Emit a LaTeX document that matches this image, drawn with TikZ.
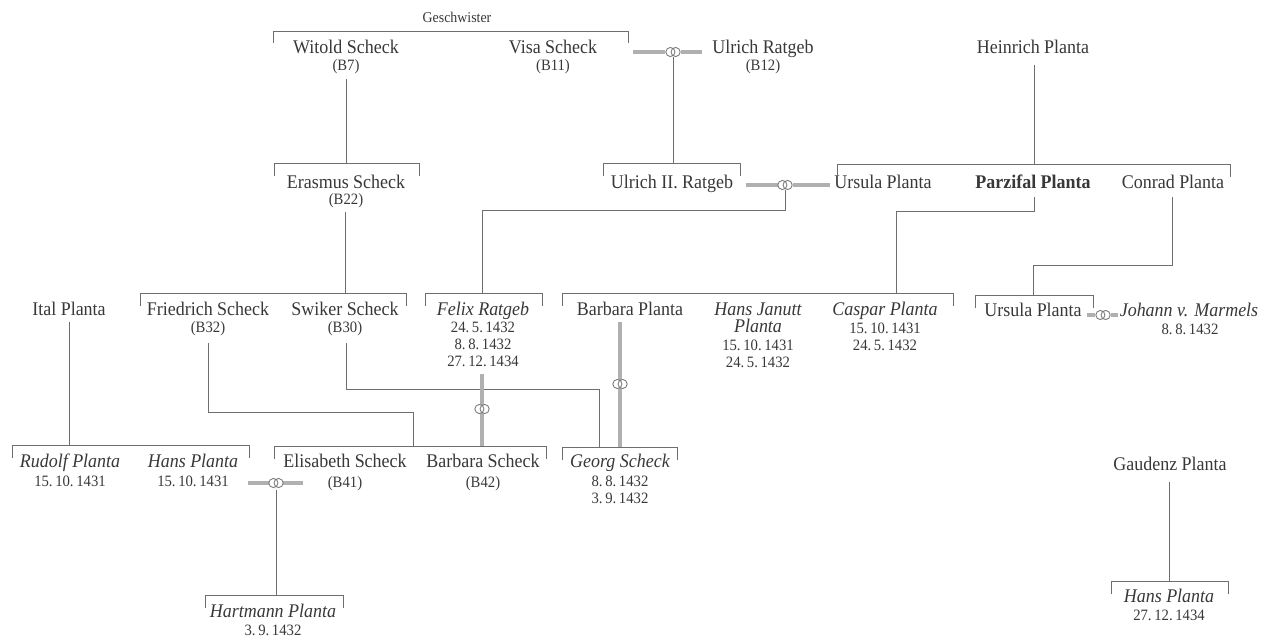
\documentclass[tikz,border=0pt]{standalone}
\usepackage{fontspec}
\setmainfont{Liberation Serif}[FakeStretch=0.93]
\definecolor{ink}{HTML}{383838}
\definecolor{ln}{HTML}{6E6E6E}
\definecolor{mar}{HTML}{B0B0B0}
\definecolor{ringc}{HTML}{7A7A7A}
\tikzset{
  nm/.style={anchor=base, inner sep=0pt, text=ink, font=\fontsize{11}{13}\selectfont},
  nmi/.style={anchor=base, inner sep=0pt, text=ink, font=\fontsize{11}{13}\selectfont\itshape},
  nmb/.style={anchor=base, inner sep=0pt, text=ink, font=\fontsize{11}{13}\selectfont\bfseries},
  sb/.style={anchor=base, inner sep=0pt, text=ink, font=\fontsize{9}{11}\selectfont},
  gs/.style={anchor=base, inner sep=0pt, text=ink, font=\fontsize{8.5}{10}\selectfont},
  tie/.style={draw=ln, line width=0.5pt},
  mline/.style={draw=mar, line width=1.9pt},
  rings/.pic={
    \fill[white] (-2.6,0) circle[radius=2.6pt] (2.6,0) circle[radius=2.6pt];
    \draw[ringc, line width=0.5pt] (-2.6,0) circle[radius=2.6pt] (2.6,0) circle[radius=2.6pt];
  }
}
\begin{document}
\begin{tikzpicture}[x=0.02cm,y=-0.02cm]
\useasboundingbox (0,0) rectangle (1272,640);

% ---------- row 1
\node[gs] (gesch) at (457,22) {Geschwister};
\node[nm] (witold) at (346,53) {Witold Scheck};
\node[sb] (witoldb) at (346,70) {(B7)};
\node[nm] (visa) at (553,53) {Visa Scheck};
\node[sb] (visab) at (553,70) {(B11)};
\node[nm] (ulrich) at (763,53) {Ulrich Ratgeb};
\node[sb] (ulrichb) at (763,70) {(B12)};
\node[nm] (heinrich) at (1033,53) {Heinrich Planta};

% ---------- row 2
\node[nm] (erasmus) at (346,188) {Erasmus Scheck};
\node[sb] (erasmusb) at (346,204) {(B22)};
\node[nm] (ulrich2) at (672,188) {Ulrich II. Ratgeb};
\node[nm] (ursula) at (883,188) {Ursula Planta};
\node[nmb] (parzifal) at (1033,188) {Parzifal Planta};
\node[nm] (conrad) at (1173,188) {Conrad Planta};

% ---------- row 3
\node[nm] (ital) at (69,315) {Ital Planta};
\node[nm] (friedrich) at (208,315) {Friedrich Scheck};
\node[sb] (friedrichb) at (208,332) {(B32)};
\node[nm] (swiker) at (345,315) {Swiker Scheck};
\node[sb] (swikerb) at (345,332) {(B30)};
\node[nmi] (felix) at (483,315) {Felix Ratgeb};
\node[sb] (felixa) at (483,332) {24.\,5.\,1432};
\node[sb] (felixb) at (483,349) {8.\,8.\,1432};
\node[sb] (felixc) at (483,366) {27.\,12.\,1434};
\node[nm] (barbarap) at (630,315) {Barbara Planta};
\node[nmi] (hansj) at (758,315) {Hans Janutt};
\node[nmi] (hansj2) at (758,332) {Planta};
\node[sb] (hansja) at (758,350) {15.\,10.\,1431};
\node[sb] (hansjb) at (758,367) {24.\,5.\,1432};
\node[nmi] (caspar) at (885,315) {Caspar Planta};
\node[sb] (caspara) at (885,333) {15.\,10.\,1431};
\node[sb] (casparb) at (885,350) {24.\,5.\,1432};
\node[nm] (ursula2) at (1033,316) {Ursula Planta};
\node[nmi] (johann) at (1189,316) {Johann v. Marmels};
\node[sb] (johanna) at (1190,334) {8.\,8.\,1432};

% ---------- row 4
\node[nmi] (rudolf) at (70,467) {Rudolf Planta};
\node[sb] (rudolfa) at (70,486) {15.\,10.\,1431};
\node[nmi] (hans) at (193,467) {Hans Planta};
\node[sb] (hansa) at (193,486) {15.\,10.\,1431};
\node[nm] (elisabeth) at (345,467) {Elisabeth Scheck};
\node[sb] (elisabethb) at (345,487) {(B41)};
\node[nm] (barbaras) at (483,467) {Barbara Scheck};
\node[sb] (barbarasb) at (483,487) {(B42)};
\node[nmi] (georg) at (620,467) {Georg Scheck};
\node[sb] (georga) at (620,486) {8.\,8.\,1432};
\node[sb] (georgb) at (620,503) {3.\,9.\,1432};
\node[nm] (gaudenz) at (1170,470) {Gaudenz Planta};

% ---------- row 5
\node[nmi] (hartmann) at (273,617) {Hartmann Planta};
\node[sb] (hartmanna) at (273,635) {3.\,9.\,1432};
\node[nmi] (hans2) at (1169,602) {Hans Planta};
\node[sb] (hans2a) at (1169,620) {27.\,12.\,1434};

% ---------- sibling brackets
\draw[tie] (273,43) -- (273,31) -- (628,31) -- (628,43);
\draw[tie] (274,176) -- (274,163) -- (419,163) -- (419,176);
\draw[tie] (603,176) -- (603,163) -- (740,163) -- (740,176);
\draw[tie] (837,177) -- (837,164) -- (1230,164) -- (1230,177);
\draw[tie] (140,306) -- (140,293) -- (406,293) -- (406,306);
\draw[tie] (425,306) -- (425,293) -- (542,293) -- (542,306);
\draw[tie] (562,306) -- (562,293) -- (953,293) -- (953,306);
\draw[tie] (975,308) -- (975,295) -- (1093,295) -- (1093,308);
\draw[tie] (12,458) -- (12,445) -- (249,445) -- (249,458);
\draw[tie] (274,459) -- (274,446) -- (546,446) -- (546,459);
\draw[tie] (562,460) -- (562,447) -- (677,447) -- (677,460);
\draw[tie] (205,608) -- (205,595) -- (343,595) -- (343,608);
\draw[tie] (1111,594) -- (1111,581) -- (1228,581) -- (1228,594);

% ---------- descent lines
\draw[tie] (346,79) -- (346,163);
\draw[tie] (673,57) -- (673,163);
\draw[tie] (1034,65) -- (1034,164);
\draw[tie] (345,212) -- (345,293);
\draw[tie] (785,190) -- (785,210) -- (482,210) -- (482,293);
\draw[tie] (1034,197) -- (1034,211) -- (896,211) -- (896,293);
\draw[tie] (1172,197) -- (1172,265) -- (1033,265) -- (1033,295);
\draw[tie] (69,322) -- (69,445);
\draw[tie] (208,343) -- (208,412) -- (413,412) -- (413,446);
\draw[tie] (346,343) -- (346,389) -- (599,389) -- (599,447);
\draw[tie] (276,490) -- (276,595);
\draw[tie] (1169,482) -- (1169,581);

% ---------- marriages
\draw[mline] (633,52) -- (665,52) (681,52) -- (702,52);
\pic at (673,52) {rings};
\draw[mline] (746,185) -- (778,185) (793,185) -- (830,185);
\pic at (785,185) {rings};
\draw[mline] (248,483) -- (270,483) (282,483) -- (303,483);
\pic at (276,483) {rings};
\draw[mline] (1087,315) -- (1095,315) (1111,315) -- (1118,315);
\pic at (1103,315) {rings};
\draw[mline] (482,374) -- (482,446);
\pic at (482,409) {rings};
\draw[mline] (620,322) -- (620,447);
\pic at (620,384) {rings};
\end{tikzpicture}
\end{document}
